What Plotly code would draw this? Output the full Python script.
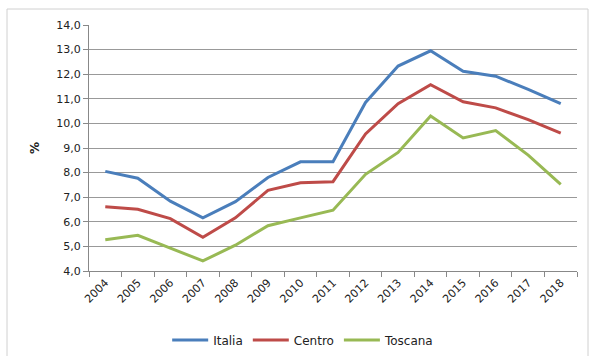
import plotly.graph_objects as go

years = [str(y) for y in range(2004, 2019)]
italia = [8.05, 7.77, 6.84, 6.16, 6.82, 7.80, 8.44, 8.44, 10.85, 12.33, 12.95, 12.12, 11.92, 11.38, 10.80]
centro = [6.61, 6.51, 6.13, 5.37, 6.16, 7.28, 7.59, 7.63, 9.57, 10.80, 11.57, 10.88, 10.63, 10.15, 9.60]
toscana = [5.27, 5.45, 4.93, 4.41, 5.05, 5.84, 6.16, 6.47, 7.93, 8.82, 10.30, 9.41, 9.71, 8.71, 7.52]

series = [("Italia", italia, "#4A7EBB"), ("Centro", centro, "#BE4B48"), ("Toscana", toscana, "#98B954")]

fig = go.Figure()
for name, vals, col in series:
    fig.add_trace(go.Scatter(x=years, y=vals, name=name, mode="lines",
                             line=dict(color=col, width=3)))

font = dict(family="DejaVu Sans, Verdana, sans-serif", size=11, color="#222")
fig.update_layout(
    width=591, height=356,
    margin=dict(l=89, r=14, t=25, b=85, autoexpand=False),
    paper_bgcolor="white", plot_bgcolor="white",
    separators=",.",
    font=font,
    showlegend=True,
    legend=dict(orientation="h", x=0.513, xanchor="center", xref="container",
                y=(356 - 340) / 356, yanchor="middle", yref="container",
                font=dict(size=12), itemwidth=36, tracegroupgap=0),
    xaxis=dict(type="category", range=[-0.5, 14.5], tickangle=-45, showgrid=False, showline=True,
               linecolor="#888", linewidth=1, ticks="outside", tickson="boundaries",
               ticklen=5, tickcolor="#888", tickfont=dict(size=11)),
    yaxis=dict(range=[4, 14], dtick=1, tickformat=".1f", showgrid=True, gridcolor="#999",
               gridwidth=1, showline=True, linecolor="#888", ticks="outside", ticklen=5,
               tickcolor="#888", zeroline=False,
               title=dict(text="<b>%</b>", font=dict(size=12), standoff=14)),
)
fig.add_shape(type="rect", xref="paper", yref="paper",
              x0=(7 - 89) / 488, x1=(588 - 89) / 488,
              y0=(271 - 360) / 246, y1=(271 - 9) / 246,
              line=dict(color="#d0d0d0", width=1), fillcolor="rgba(0,0,0,0)", layer="below")
fig.write_html("out.html")
